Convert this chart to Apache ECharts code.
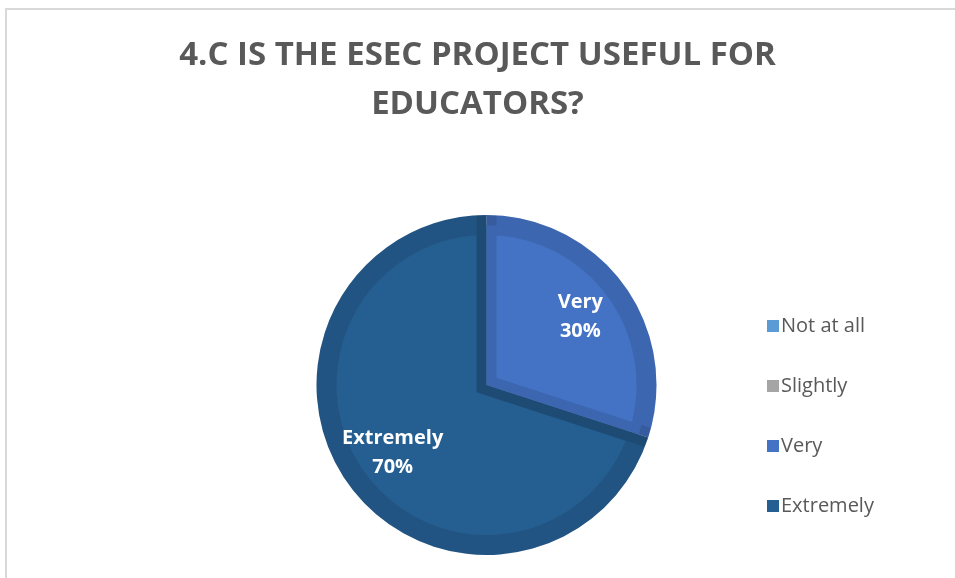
<!DOCTYPE html>
<html>
<head>
<meta charset="utf-8">
<script src="https://cdn.jsdelivr.net/npm/echarts@6/dist/echarts.min.js"></script>
<style>
  html, body { margin: 0; padding: 0; background: #ffffff; }
  #chart { width: 955px; height: 578px; position: absolute; left: 0; top: 0; }
  #frame { position: absolute; left: 5px; top: 8px; width: 1000px; height: 700px;
           border: 2px solid #D9D9D9; box-sizing: border-box; pointer-events: none; }
</style>
</head>
<body>
<div id="chart"></div>
<div id="frame"></div>
<script>
const titleText = '4.C IS THE ESEC PROJECT USEFUL FOR\nEDUCATORS?';
const categories = ['Not at all', 'Slightly', 'Very', 'Extremely'];
const values = [0, 0, 30, 70];
const colors = ['#5B9BD5', '#A5A5A5', '#4472C4', '#255E91'];
// drawing order of the slices (Very drawn last so its bevel stays its own colour)
const drawOrder = [3, 0, 1, 2];
const startAngle = -18;

const center = [486.5, 385];
const baseData = drawOrder.map(i => ({
  name: categories[i],
  value: values[i],
  itemStyle: { color: colors[i] }
}));

const chart = echarts.init(document.getElementById('chart'));
chart.setOption({
  animation: false,
  color: colors,
  title: {
    text: titleText,
    left: 'center',
    top: 26,
    textStyle: {
      fontFamily: 'Open Sans',
      fontWeight: 'bold',
      fontSize: 33,
      lineHeight: 49,
      color: '#595959'
    }
  },
  legend: {
    orient: 'vertical',
    left: 762,
    top: 311,
    itemWidth: 12,
    itemHeight: 12,
    itemGap: 40,
    icon: 'rect',
    data: categories,
    itemStyle: { borderWidth: 0 },
    textStyle: { fontFamily: 'Open Sans', fontSize: 20, lineHeight: 20, color: '#595959', padding: [0, 0, 0, -3] }
  },
  series: [
    {
      type: 'pie',
      name: 'outer',
      center: center,
      radius: 170,
      startAngle: startAngle,
      silent: true,
      label: { show: false },
      labelLine: { show: false },
      data: baseData.map(d => ({ ...d, itemStyle: { ...d.itemStyle, borderWidth: 0 } }))
    },
    {
      type: 'pie',
      name: 'inner',
      center: center,
      radius: 160,
      startAngle: startAngle,
      silent: true,
      label: { show: false },
      labelLine: { show: false },
      data: baseData.map(d => ({
        ...d,
        itemStyle: {
          ...d.itemStyle,
          borderWidth: d.value === 0 ? 0 : 20,
          borderColor: 'rgba(0,0,0,0.1)',
          borderJoin: 'miter'
        }
      }))
    },
    {
      type: 'pie',
      name: 'labels',
      center: center,
      radius: [56, 170],
      startAngle: startAngle,
      silent: true,
      percentPrecision: 0,
      labelLine: { show: false },
      label: {
        show: true,
        position: 'inside',
        formatter: '{b}\n{d}%',
        color: '#ffffff',
        fontFamily: 'Open Sans',
        fontWeight: 'bold',
        fontSize: 20,
        lineHeight: 29
      },
      data: baseData.map(d => ({
        ...d,
        itemStyle: { color: 'rgba(0,0,0,0)', borderWidth: 0 },
        label: d.value === 0 ? { show: false } : undefined
      }))
    }
  ]
});
</script>
</body>
</html>
